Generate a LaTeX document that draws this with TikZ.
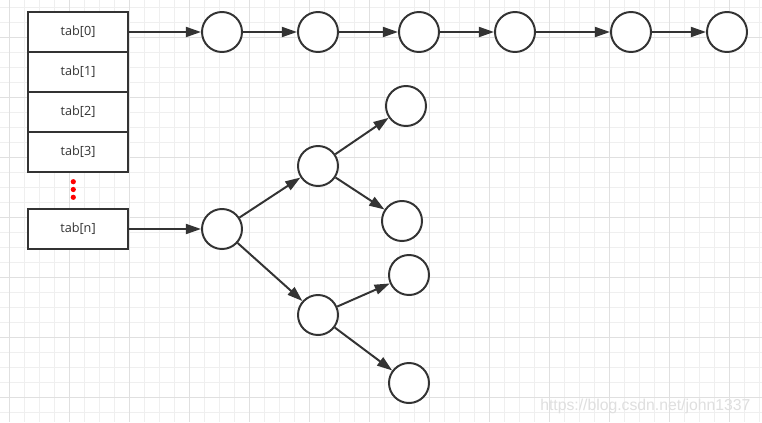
\documentclass[tikz,border=0pt]{standalone}
\usepackage{fontspec}
\setmainfont{Open Sans}
\newfontfamily\markfont{Liberation Sans}
\usetikzlibrary{arrows.meta,positioning}
\definecolor{ink}{HTML}{333333}
\definecolor{gridmin}{HTML}{EFEFEF}
\definecolor{gridmaj}{HTML}{E0E0E0}
\tikzset{
    cell/.style = {draw=ink, rectangle, fill=white, line width=1.4pt,
        minimum height=1cm, minimum width=2.5cm, inner sep=0pt,
        text=ink, font=\fontsize{9}{11}\selectfont},
    link/.style = {draw=ink, circle, fill=white, line width=1.4pt,
        minimum size=1cm, inner sep=0pt},
    arrow/.style = {draw=ink, line width=1.4pt, -{Triangle[length=0.38cm,width=0.25cm]}},
    dot/.style = {circle, fill=red, inner sep=0pt, minimum size=0.13cm},
    minor/.style = {draw=gridmin, line width=0.025cm},
    major/.style = {draw=gridmaj, line width=0.025cm}
}

\begin{document}
\begin{tikzpicture}[x=0.025cm, y=-0.025cm]
    \useasboundingbox (0,0) rectangle (762,422);
    \fill[white] (0,0) rectangle (762,422);
    % grid paper
    \foreach \gx in {0,...,50} {\draw[minor] ({9.5+15*\gx},0) -- ({9.5+15*\gx},422);}
    \foreach \gy in {0,...,27} {\draw[minor] (0,{7.3+15*\gy}) -- (762,{7.3+15*\gy});}
    \foreach \gx in {0,...,12} {\draw[major] ({9.5+60*\gx},0) -- ({9.5+60*\gx},422);}
    \foreach \gy in {0,...,6} {\draw[major] (0,{37.3+60*\gy}) -- (762,{37.3+60*\gy});}
    % table
    \node [cell] (tab0) at (78,32) {tab[0]};
    \foreach \i/\j in {1/0,2/1,3/2}
        \node [cell, below of=tab\j, node distance=1cm] (tab\i) {tab[\i]};
    \foreach \k/\dy in {1/181.7,2/189.5,3/197.3}
        \node [dot] (dot\k) at (73.3,\dy) {};
    \node [cell] (tabn) at (78,229) {tab[n]};
    % list
    \foreach \x [count=\k] in {222,318,419,515,631,727}
        \node [link] (c\k) at (\x,32) {};
    \draw [arrow] (tab0) -- (c1);
    \foreach \k/\m in {1/2,2/3,3/4,4/5,5/6}
        \draw [arrow] (c\k) -- (c\m);
    % tree
    \node [link] (root) at (222,229) {};
    \node [link] (up) at (318,166) {};
    \node [link] (lo) at (318,315) {};
    \node [link] (leaf1) at (406,106) {};
    \node [link] (leaf2) at (402,221) {};
    \node [link] (leaf3) at (409,275) {};
    \node [link] (leaf4) at (409,383) {};
    \draw [arrow] (tabn) -- (root);
    \draw [arrow] (root) -- (up);
    \draw [arrow] (root) -- (lo);
    \draw [arrow] (up) -- (leaf1);
    \draw [arrow] (up) -- (leaf2);
    \draw [arrow] (lo) -- (leaf3);
    \draw [arrow] (lo) -- (leaf4);
    \node [anchor=base west, inner sep=0pt, text=gray!25,
        font=\markfont\fontsize{11.2}{13}\selectfont] (mark) at (540,410) {https://blog.csdn.net/john1337};
\end{tikzpicture}
\end{document}
